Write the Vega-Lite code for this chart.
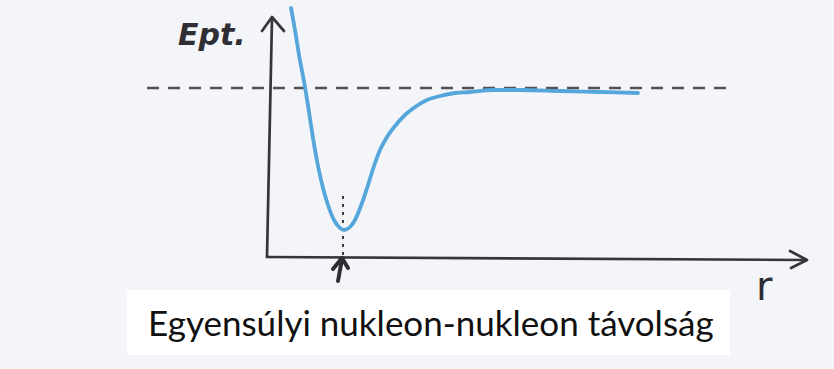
{
  "$schema": "https://vega.github.io/schema/vega-lite/v6.json",
  "width": 834,
  "height": 369,
  "autosize": {"type": "fit", "contains": "padding"},
  "padding": 0,
  "background": "#f4f5f9",
  "config": {"view": {"stroke": null}},
  "datasets": {
    "potential": [
      {"r": 0.23, "E": 0.80}, {"r": 0.27, "E": 0.58}, {"r": 0.31, "E": 0.33},
      {"r": 0.37, "E": 0.01}, {"r": 0.41, "E": -0.24}, {"r": 0.45, "E": -0.50},
      {"r": 0.50, "E": -0.78}, {"r": 0.55, "E": -1.00}, {"r": 0.60, "E": -1.17},
      {"r": 0.66, "E": -1.32}, {"r": 0.71, "E": -1.39}, {"r": 0.76, "E": -1.42},
      {"r": 0.82, "E": -1.39}, {"r": 0.87, "E": -1.32}, {"r": 0.94, "E": -1.15},
      {"r": 1.00, "E": -0.97}, {"r": 1.06, "E": -0.78}, {"r": 1.12, "E": -0.62},
      {"r": 1.19, "E": -0.49}, {"r": 1.27, "E": -0.38}, {"r": 1.37, "E": -0.27},
      {"r": 1.47, "E": -0.19}, {"r": 1.59, "E": -0.12}, {"r": 1.72, "E": -0.08},
      {"r": 1.87, "E": -0.05}, {"r": 2.02, "E": -0.04}, {"r": 2.25, "E": -0.02},
      {"r": 2.52, "E": -0.02}, {"r": 2.92, "E": -0.03}, {"r": 3.32, "E": -0.04},
      {"r": 3.70, "E": -0.05}
    ],
    "strokes": [
      {"part": "yAxis", "i": 0, "r": -0.01, "E": -1.69},
      {"part": "yAxis", "i": 1, "r": 0.04, "E": 0.70},
      {"part": "xAxis", "i": 0, "r": -0.01, "E": -1.69},
      {"part": "xAxis", "i": 1, "r": 5.38, "E": -1.72},
      {"part": "yHead", "i": 0, "r": -0.06, "E": 0.57},
      {"part": "yHead", "i": 1, "r": 0.04, "E": 0.71},
      {"part": "yHead", "i": 2, "r": 0.16, "E": 0.57},
      {"part": "xHead", "i": 0, "r": 5.22, "E": -1.63},
      {"part": "xHead", "i": 1, "r": 5.39, "E": -1.72},
      {"part": "xHead", "i": 2, "r": 5.23, "E": -1.80}
    ],
    "marker": [
      {"part": "shaft", "i": 0, "r": 0.70, "E": -1.93},
      {"part": "shaft", "i": 1, "r": 0.74, "E": -1.71},
      {"part": "head", "i": 0, "r": 0.65, "E": -1.81},
      {"part": "head", "i": 1, "r": 0.74, "E": -1.70},
      {"part": "head", "i": 2, "r": 0.80, "E": -1.80}
    ]
  },
  "layer": [
    {
      "description": "zero level of the potential energy",
      "data": {"values": [{"r0": -1.21, "r1": 4.67, "E": 0}]},
      "mark": {"type": "rule", "color": "#34343a", "strokeWidth": 2.5, "strokeDash": [12, 9], "opacity": 0.85},
      "encoding": {
        "x": {"field": "r0", "type": "quantitative", "scale": {"domain": [-2.68, 5.66], "nice": false, "zero": false}, "axis": null},
        "x2": {"field": "r1"},
        "y": {"field": "E", "type": "quantitative", "scale": {"domain": [-2.81, 0.88], "nice": false, "zero": false}, "axis": null}
      }
    },
    {
      "description": "equilibrium distance marker",
      "data": {"values": [{"r": 0.75, "E0": -1.08, "E1": -1.67}]},
      "mark": {"type": "rule", "color": "#3a3a40", "strokeWidth": 2, "strokeDash": [3, 5]},
      "encoding": {
        "x": {"field": "r", "type": "quantitative"},
        "y": {"field": "E0", "type": "quantitative"},
        "y2": {"field": "E1"}
      }
    },
    {
      "description": "hand-drawn axes and arrow heads",
      "data": {"name": "strokes"},
      "mark": {"type": "line", "color": "#35353b", "strokeWidth": 2.7, "strokeCap": "round", "strokeJoin": "round"},
      "encoding": {
        "x": {"field": "r", "type": "quantitative"},
        "y": {"field": "E", "type": "quantitative"},
        "detail": {"field": "part"},
        "order": {"field": "i", "type": "quantitative"}
      }
    },
    {
      "description": "arrow pointing at the equilibrium distance",
      "data": {"name": "marker"},
      "mark": {"type": "line", "color": "#2e2e34", "strokeWidth": 4, "strokeCap": "round", "strokeJoin": "round"},
      "encoding": {
        "x": {"field": "r", "type": "quantitative"},
        "y": {"field": "E", "type": "quantitative"},
        "detail": {"field": "part"},
        "order": {"field": "i", "type": "quantitative"}
      }
    },
    {
      "description": "potential energy curve",
      "data": {"name": "potential"},
      "mark": {"type": "line", "color": "#55a6da", "strokeWidth": 3.8, "interpolate": "monotone", "strokeCap": "round"},
      "encoding": {
        "x": {"field": "r", "type": "quantitative"},
        "y": {"field": "E", "type": "quantitative"}
      }
    },
    {
      "description": "energy axis name",
      "data": {"values": [{"label": "Ept.", "r": -0.90, "E": 0.43}]},
      "mark": {"type": "text", "align": "left", "baseline": "alphabetic", "font": "DejaVu Sans", "fontStyle": "italic", "fontWeight": "bold", "fontSize": 30, "color": "#2e2e34"},
      "encoding": {
        "x": {"field": "r", "type": "quantitative"},
        "y": {"field": "E", "type": "quantitative"},
        "text": {"field": "label"}
      }
    },
    {
      "description": "distance axis name",
      "data": {"values": [{"label": "r", "r": 4.88, "E": -2.12}]},
      "mark": {"type": "text", "align": "left", "baseline": "alphabetic", "font": "DejaVu Sans", "fontSize": 40, "color": "#2e2e34"},
      "encoding": {
        "x": {"field": "r", "type": "quantitative"},
        "y": {"field": "E", "type": "quantitative"},
        "text": {"field": "label"}
      }
    },
    {
      "description": "caption box",
      "data": {"values": [{"r0": -1.41, "r1": 4.62, "E0": -2.02, "E1": -2.67}]},
      "mark": {"type": "rect", "color": "#ffffff"},
      "encoding": {
        "x": {"field": "r0", "type": "quantitative"},
        "x2": {"field": "r1"},
        "y": {"field": "E0", "type": "quantitative"},
        "y2": {"field": "E1"}
      }
    },
    {
      "description": "caption",
      "data": {"values": [{"label": "Egyensúlyi nukleon-nukleon távolság", "r": -1.20, "E": -2.48}]},
      "mark": {"type": "text", "align": "left", "baseline": "alphabetic", "font": "Lato", "fontSize": 35, "color": "#111111"},
      "encoding": {
        "x": {"field": "r", "type": "quantitative"},
        "y": {"field": "E", "type": "quantitative"},
        "text": {"field": "label"}
      }
    }
  ]
}
